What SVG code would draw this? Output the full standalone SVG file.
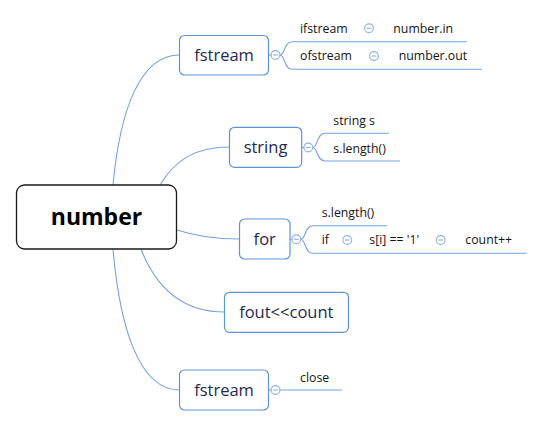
<svg xmlns="http://www.w3.org/2000/svg" width="543" height="427" viewBox="0 0 543 427">
<style>
.node rect{fill:#fff;stroke:#5f93d8;stroke-width:1.2}
.nt{font-family:"Open Sans","Noto Sans",sans-serif;font-size:16.5px;fill:#1d2a4e;text-anchor:middle}
.ct{font-family:"Open Sans","Noto Sans",sans-serif;font-size:12.3px;fill:#151515}
.conn path,.br path{fill:none;stroke:#76a2e0;stroke-width:1.1}
</style>
<defs>
<g id="tg"><circle r="4.4" fill="#fff" stroke="#8fb0e0" stroke-width="1.1"/><line x1="-2.4" y1="0" x2="2.4" y2="0" stroke="#8fb0e0" stroke-width="1.1"/></g>
</defs>
<rect width="543" height="427" fill="#fff"/>
<g id="connectors" class="conn">
<path d="M113,185 C120,110 140,55 179.5,55"/>
<path d="M160,185 C175,160 195,147 229.5,147"/>
<path d="M177,230 C195,236 215,239 239.5,239"/>
<path d="M141,249 C155,285 180,312 224.5,312"/>
<path d="M113,249 C120,330 140,390 179.5,390"/>
</g>
<g id="center">
<rect x="16.5" y="185" width="160" height="64" rx="8" fill="#fff" stroke="#1a1a1a" stroke-width="1.3"/>
<text x="96.5" y="225" font-family="'Open Sans','Noto Sans',sans-serif" font-size="23" font-weight="bold" fill="#000" text-anchor="middle">number</text>
</g>
<g id="n-fstream1">
<g class="node"><rect x="179.5" y="35.5" width="89" height="39.5" rx="5"/></g>
<text class="nt" x="224" y="61">fstream</text>
<g class="br">
<path d="M268.7,55 H271"/>
<path d="M280,55 C285,55 284,41.7 292,41.7 H467"/>
<path d="M280,55 C285,55 284,69.3 292,69.3 H482"/>
</g>
<use href="#tg" x="275.5" y="55"/>
<text class="ct" x="300" y="32.5">ifstream</text>
<use href="#tg" x="369" y="28.3"/>
<text class="ct" x="393.3" y="32.5">number.in</text>
<text class="ct" x="300" y="60">ofstream</text>
<use href="#tg" x="374" y="56"/>
<text class="ct" x="398.7" y="60">number.out</text>
</g>
<g id="n-string">
<g class="node"><rect x="229.5" y="127.3" width="72.2" height="40" rx="5"/></g>
<text class="nt" x="265.5" y="153.3">string</text>
<g class="br">
<path d="M301.7,147.5 H304"/>
<path d="M312.7,147.5 C317.7,147.5 316.7,133.3 324.7,133.3 H389"/>
<path d="M312.7,147.5 C317.7,147.5 316.7,161 324.7,161 H400"/>
</g>
<use href="#tg" x="308.3" y="147.5"/>
<text class="ct" x="333.3" y="125">string s</text>
<text class="ct" x="333.3" y="153">s.length()</text>
</g>
<g id="n-for">
<g class="node"><rect x="239.5" y="219" width="50.5" height="40" rx="5"/></g>
<text class="nt" x="264.7" y="244.5">for</text>
<g class="br">
<path d="M290,239.3 H292"/>
<path d="M300.7,239.3 C305.7,239.3 304.7,225.7 312.7,225.7 H387.3"/>
<path d="M300.7,239.3 C305.7,239.3 304.7,253.3 312.7,253.3 H526.7"/>
</g>
<use href="#tg" x="296.3" y="239.3"/>
<text class="ct" x="321.7" y="216.7">s.length()</text>
<text class="ct" x="321.7" y="244.3">if</text>
<use href="#tg" x="347.3" y="240"/>
<text class="ct" x="369.3" y="244.3">s[i] == '1'</text>
<use href="#tg" x="440.7" y="240"/>
<text class="ct" x="465.3" y="244.3">count++</text>
</g>
<g id="n-fout">
<g class="node"><rect x="224.5" y="292.3" width="124" height="40" rx="5"/></g>
<text class="nt" x="286.3" y="318.3">fout&lt;&lt;count</text>
</g>
<g id="n-fstream2">
<g class="node"><rect x="179.5" y="370" width="89" height="40" rx="5"/></g>
<text class="nt" x="224" y="396">fstream</text>
<g class="br">
<path d="M268.7,390 H271"/>
<path d="M280,390 H342.3"/>
</g>
<use href="#tg" x="275.5" y="390"/>
<text class="ct" x="300" y="381.7">close</text>
</g>
</svg>
